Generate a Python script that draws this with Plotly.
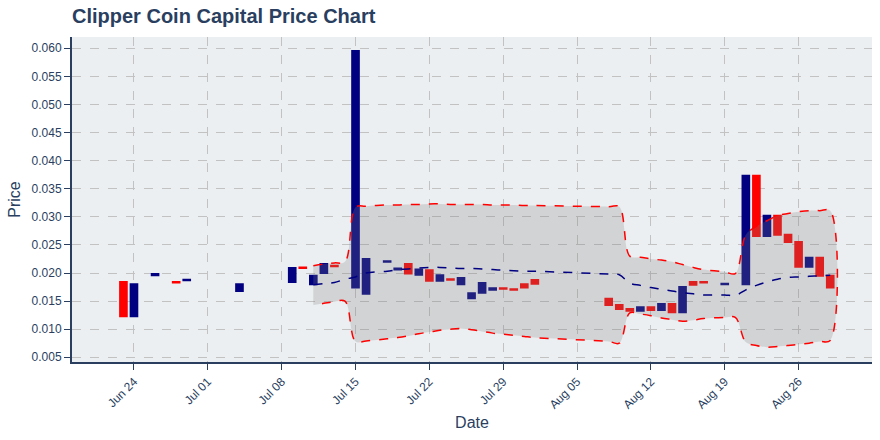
import plotly.graph_objects as go

# daily candles (no wicks visible)
dates = ["2018-06-23", "2018-06-24", "2018-06-26", "2018-06-28", "2018-06-29", "2018-07-04",
         "2018-07-09", "2018-07-10", "2018-07-11", "2018-07-12", "2018-07-13", "2018-07-15",
         "2018-07-16", "2018-07-18", "2018-07-19", "2018-07-20", "2018-07-21", "2018-07-22",
         "2018-07-23", "2018-07-24", "2018-07-25", "2018-07-26", "2018-07-27", "2018-07-28",
         "2018-07-29", "2018-07-30", "2018-07-31", "2018-08-01", "2018-08-08", "2018-08-09",
         "2018-08-10", "2018-08-11", "2018-08-12", "2018-08-13", "2018-08-14", "2018-08-15",
         "2018-08-16", "2018-08-17", "2018-08-19", "2018-08-21", "2018-08-22", "2018-08-23",
         "2018-08-24", "2018-08-25", "2018-08-26", "2018-08-27", "2018-08-28", "2018-08-29"]
open_ = [0.0184, 0.0123, 0.0196, 0.0184, 0.0187, 0.0168,
         0.0184, 0.0210, 0.0180, 0.0200, 0.0213, 0.0174,
         0.0163, 0.0220, 0.0206, 0.0216, 0.0197, 0.0205,
         0.0186, 0.0189, 0.0180, 0.0155, 0.0165, 0.0170,
         0.0173, 0.0171, 0.0180, 0.01875, 0.0154, 0.0143,
         0.0136, 0.0133, 0.0139, 0.0134, 0.0145, 0.0130,
         0.0184, 0.0184, 0.0180, 0.0180, 0.0373, 0.0266,
         0.0302, 0.0268, 0.0255, 0.0211, 0.0227, 0.0195]
close = [0.0123, 0.0180, 0.0198, 0.0183, 0.0188, 0.0180,
         0.0209, 0.0209, 0.0195, 0.0216, 0.0212, 0.0595,
         0.0225, 0.0221, 0.0208, 0.0199, 0.0206, 0.0186,
         0.0196, 0.0188, 0.0191, 0.0164, 0.0182, 0.0173,
         0.0172, 0.0170, 0.0174, 0.0181, 0.0143, 0.0136,
         0.0133, 0.0139, 0.0134, 0.0145, 0.0130, 0.0175,
         0.0179, 0.0183, 0.0181, 0.0373, 0.0266, 0.0302,
         0.0268, 0.0255, 0.0211, 0.0227, 0.0195, 0.0174]
high = [max(o, c) for o, c in zip(open_, close)]
low = [min(o, c) for o, c in zip(open_, close)]

# bollinger bands
band_dates = ["2018-07-11", "2018-07-12", "2018-07-13", "2018-07-14", "2018-07-15", "2018-07-16",
              "2018-07-18", "2018-07-19", "2018-07-20", "2018-07-21", "2018-07-22", "2018-07-23",
              "2018-07-24", "2018-07-25", "2018-07-26", "2018-07-27", "2018-07-28", "2018-07-29",
              "2018-07-30", "2018-07-31", "2018-08-01", "2018-08-08", "2018-08-09", "2018-08-10",
              "2018-08-11", "2018-08-12", "2018-08-13", "2018-08-14", "2018-08-15", "2018-08-16",
              "2018-08-17", "2018-08-19", "2018-08-20", "2018-08-21", "2018-08-22", "2018-08-23",
              "2018-08-24", "2018-08-25", "2018-08-26", "2018-08-27", "2018-08-28", "2018-08-29"]
upper = [0.0213, 0.0216, 0.0218, 0.0220, 0.0317, 0.0319,
         0.0321, 0.0321, 0.0322, 0.0322, 0.0323, 0.0323,
         0.0322, 0.0322, 0.0322, 0.0322, 0.0321, 0.0321,
         0.0321, 0.0320, 0.0320, 0.0318, 0.0318, 0.0230,
         0.0228, 0.0225, 0.0223, 0.0220, 0.0215, 0.0210,
         0.0206, 0.0202, 0.0199, 0.0268, 0.0283, 0.0293,
         0.0302, 0.0306, 0.0309, 0.0311, 0.0311, 0.0311]
middle = [0.0179, 0.0181, 0.0183, 0.0189, 0.0193, 0.0200,
          0.0203, 0.0206, 0.0207, 0.0209, 0.0210, 0.0210,
          0.0209, 0.0208, 0.0208, 0.0207, 0.0206, 0.0205,
          0.0204, 0.0203, 0.0203, 0.0198, 0.0197, 0.0182,
          0.0178, 0.0174, 0.0171, 0.0168, 0.0165, 0.0163,
          0.0161, 0.0161, 0.0160, 0.0170, 0.0178, 0.0184,
          0.0189, 0.0192, 0.0193, 0.0194, 0.0195, 0.0196]
lower = [0.0143, 0.0146, 0.0149, 0.0150, 0.0078, 0.0079,
         0.0083, 0.0085, 0.0088, 0.0092, 0.0095, 0.0098,
         0.0100, 0.0101, 0.0099, 0.0096, 0.0093, 0.0091,
         0.0089, 0.0087, 0.0085, 0.0078, 0.0075, 0.0129,
         0.0127, 0.0124, 0.0120, 0.0117, 0.0114, 0.0116,
         0.0119, 0.0121, 0.0121, 0.0077, 0.0071, 0.0068,
         0.0069, 0.0071, 0.0073, 0.0075, 0.0078, 0.0080]

axis_col = "#2a3f5f"

fig = go.Figure()
fig.add_trace(go.Candlestick(
    x=dates, open=open_, high=high, low=low, close=close,
    increasing=dict(line=dict(color="navy"), fillcolor="navy"),
    decreasing=dict(line=dict(color="red"), fillcolor="red"),
    showlegend=False, name="Price"))

# band polygon: upper forward, lower backward
fig.add_trace(go.Scatter(
    x=band_dates + band_dates[::-1], y=upper + lower[::-1],
    mode="lines", fill="toself", fillcolor="rgba(128,128,128,0.25)",
    line=dict(color="red", width=1.5, dash="dash", shape="spline"),
    showlegend=False, name="Bollinger Bands"))
fig.add_trace(go.Scatter(
    x=band_dates, y=middle, mode="lines",
    line=dict(color="navy", width=1.5, dash="dash", shape="spline"),
    showlegend=False, name="Moving Average"))

fig.update_layout(
    width=880, height=440,
    margin=dict(l=72, r=8, t=37, b=78),
    paper_bgcolor="white", plot_bgcolor="#eceff1",
    font=dict(family="Liberation Sans, Arial, sans-serif", color=axis_col, size=12),
    title=dict(text="<b>Clipper Coin Capital Price Chart</b>", x=0, xref="paper", xanchor="left",
               y=0.963, yref="container", yanchor="middle", font=dict(size=20, color=axis_col)),
    boxgap=0.1,
    xaxis=dict(title=dict(text="Date", font=dict(size=16), standoff=6), type="date",
               range=["2018-06-18 03:00", "2018-09-01 23:00"], rangeslider=dict(visible=False),
               tick0="2018-06-24", dtick=7 * 86400000, tickformat="%b %d", tickangle=-45,
               showgrid=True, gridcolor="#c2c2c2", griddash="dash", gridwidth=1,
               showline=True, linecolor=axis_col, linewidth=2, automargin=False,
               ticks="outside", tickcolor=axis_col, ticklen=6, zeroline=False),
    yaxis=dict(title=dict(text="Price", font=dict(size=16), standoff=7),
               range=[0.00416, 0.0620], tick0=0, dtick=0.005, tickformat=".3f",
               showgrid=True, gridcolor="#c2c2c2", griddash="dash", gridwidth=1,
               showline=True, linecolor=axis_col, linewidth=2, automargin=False,
               ticks="outside", tickcolor=axis_col, ticklen=6, zeroline=False),
)

fig.write_html("out.html", config={"displayModeBar": False},
               post_script="document.body.style.margin='0';")
